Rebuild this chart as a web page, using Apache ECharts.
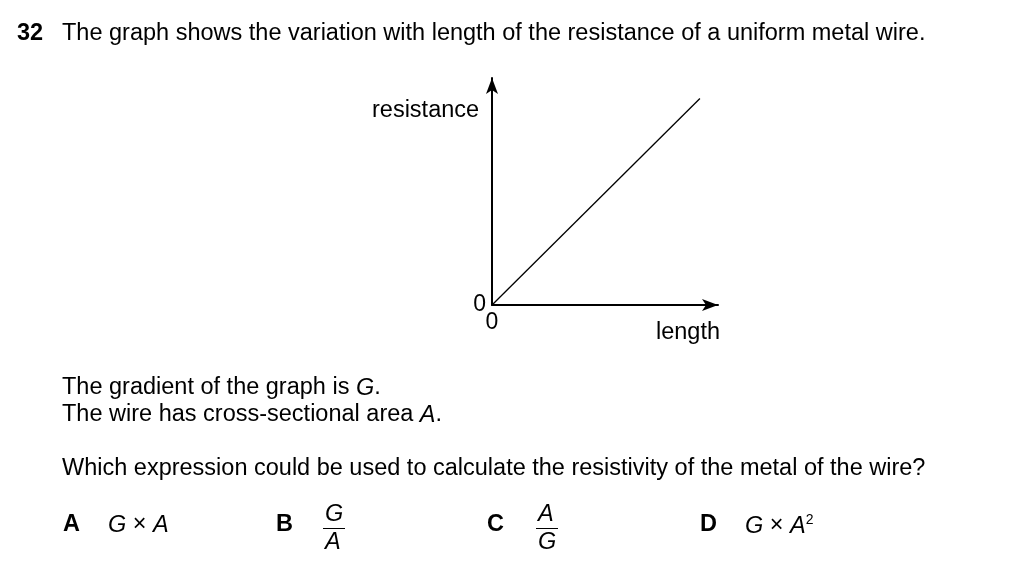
<!DOCTYPE html>
<html><head><meta charset="utf-8">
<script src="https://cdn.jsdelivr.net/npm/echarts@6/dist/echarts.min.js"></script>
<style>html,body{margin:0;padding:0;background:#fff}#c{width:1024px;height:588px}</style>
</head><body><div id="c"></div>
<script>
const xRange = [0, 10];
const yRange = [0, 10];
const linePoints = [[0, 0], [9.2, 9.1]];
const axisTickLabels = ['0'];
const xName = 'length';
const yName = 'resistance';

const F = '"Liberation Sans", Arial, Helvetica, sans-serif';
const FS = 23.5;
const N = FS + 'px ' + F, I = 'italic ' + FS + 'px ' + F, B = 'bold ' + FS + 'px ' + F;
const chart = echarts.init(document.getElementById('c'), null, {renderer: 'canvas'});
function txt(x, y, s, font) {
  return {type: 'text', left: x, top: y, style: {text: s, font: font || N, fill: '#000'}};
}
function rich(x, y, s, extra) {
  return {type: 'text', left: x, top: y, style: {rich: Object.assign({i: {font: I}, n: {font: N}}, extra || {}), text: s, fill: '#000'}};
}
const graphics = [
  txt(17, 22, '32', B),
  txt(62, 22, 'The graph shows the variation with length of the resistance of a uniform metal wire.'),
  txt(372, 99, yName),
  txt(656, 321, xName),
  rich(62, 376, '{n|The gradient of the graph is }{i|G}{n|.}'),
  rich(62, 403, '{n|The wire has cross-sectional area }{i|A}{n|.}'),
  txt(62, 457, 'Which expression could be used to calculate the resistivity of the metal of the wire?'),
  txt(63, 513, 'A', B),
  rich(108, 513, '{i|G}{n| × }{i|A}'),
  txt(276, 513, 'B', B),
  txt(325, 503, 'G', I),
  {type: 'line', shape: {x1: 323, y1: 528.5, x2: 345, y2: 528.5}, style: {stroke: '#000', lineWidth: 1}},
  txt(325, 531, 'A', I),
  txt(487, 513, 'C', B),
  txt(538, 503, 'A', I),
  {type: 'line', shape: {x1: 536, y1: 528.5, x2: 558, y2: 528.5}, style: {stroke: '#000', lineWidth: 1}},
  txt(538, 531, 'G', I),
  txt(700, 513, 'D', B),
  rich(745, 513, '{i|G}{n| × }{i|A}{s|2}', {s: {font: '14px ' + F, verticalAlign: 'top', padding: [0, 0, 12, 0]}})
];
chart.setOption({
  animation: false,
  backgroundColor: '#fff',
  grid: {left: 492, top: 78, right: 306, bottom: 283, containLabel: false},
  xAxis: {
    type: 'value', min: xRange[0], max: xRange[1], interval: 10,
    axisLine: {show: true, lineStyle: {color: '#000', width: 2}, symbol: ['none', 'arrow'], symbolSize: [9, 16]},
    axisTick: {show: false}, splitLine: {show: false},
    axisLabel: {color: '#000', fontSize: 23, fontFamily: 'Liberation Sans', margin: 6, formatter: v => axisTickLabels.includes(String(v)) ? String(v) : ''}
  },
  yAxis: {
    type: 'value', min: yRange[0], max: yRange[1], interval: 10,
    axisLine: {show: true, lineStyle: {color: '#000', width: 2}, symbol: ['none', 'arrow'], symbolSize: [9, 16]},
    axisTick: {show: false}, splitLine: {show: false},
    axisLabel: {color: '#000', fontSize: 23, fontFamily: 'Liberation Sans', margin: 6, formatter: v => axisTickLabels.includes(String(v)) ? String(v) : ''}
  },
  series: [{type: 'line', data: linePoints, symbol: 'none', lineStyle: {color: '#000', width: 1.3}}],
  graphic: graphics
});
</script></body></html>
